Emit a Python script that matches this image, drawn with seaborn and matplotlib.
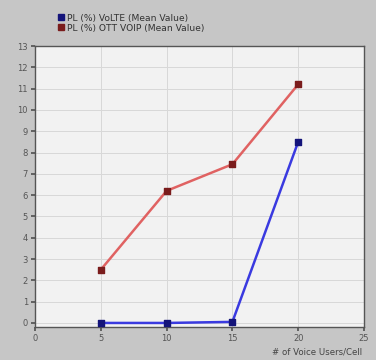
import matplotlib
matplotlib.use("Agg")
import matplotlib.pyplot as plt
import seaborn as sns
import pandas as pd

users = [5, 10, 15, 20]
volte = [0.0, 0.0, 0.05, 8.5]
ott = [2.5, 6.2, 7.45, 11.2]
series_names = ["PL (%) VoLTE (Mean Value)", "PL (%) OTT VOIP (Mean Value)"]
x_ticks = [0, 5, 10, 15, 20, 25]
y_ticks = list(range(0, 14))

df = pd.DataFrame({
    "users": users * 2,
    "value": volte + ott,
    "series": [series_names[0]] * len(users) + [series_names[1]] * len(users),
})

sns.set_theme(style="white")
plt.rcParams['font.family'] = ['DejaVu Sans']

fig = plt.figure(figsize=(3.76, 3.6), dpi=100, facecolor="#c6c6c6")
ax = fig.add_axes([35/376, 1 - 327/360, 329/376, 281/360])
ax.set_facecolor("#f2f2f2")

palette = {series_names[0]: "#3a3ae0", series_names[1]: "#e06262"}
sns.lineplot(data=df, x="users", y="value", hue="series", palette=palette,
             ax=ax, linewidth=1.8, legend=False)
mk = {series_names[0]: "#14147a", series_names[1]: "#7a1c1c"}
for name in series_names:
    sub = df[df.series == name]
    ax.scatter(sub.users, sub.value, marker="s", s=18, color=mk[name], zorder=5)

ax.set_xlim(0, 25)
ax.set_ylim(-0.19, 13)
ax.set_xticks(x_ticks)
ax.set_yticks(y_ticks)
ax.tick_params(axis="both", labelsize=6, colors="#555555", length=3, direction="out",
               bottom=True, left=True, pad=2)
ax.grid(True, color="#d8d8d8", linewidth=0.7)
for s in ax.spines.values():
    s.set_color("#555555")
    s.set_linewidth(1.0)
ax.set_xlabel("")
ax.set_ylabel("")
fig.text(362/376, 1 - 352/360, "# of Voice Users/Cell", ha="right", va="center",
         fontsize=6.2, color="#444444")

# legend
from matplotlib.lines import Line2D
handles = [Line2D([], [], marker="s", linestyle="none", markersize=5, color=mk[n]) for n in series_names]
leg = fig.legend(handles, series_names, loc="upper left", bbox_to_anchor=(54/376, 1 - 9/360),
                 frameon=False, fontsize=6.6, handlelength=0.6, handletextpad=0.3,
                 labelspacing=0.1, borderpad=0)
for t in leg.get_texts():
    t.set_color("#333333")

fig.savefig("out.png", dpi=100, facecolor=fig.get_facecolor())
